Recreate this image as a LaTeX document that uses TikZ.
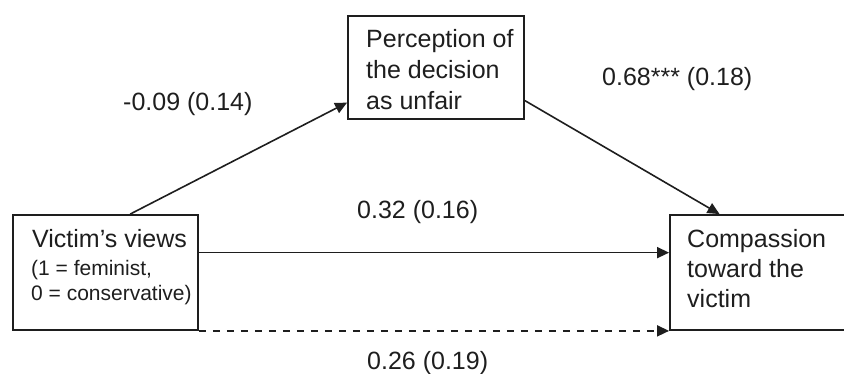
\documentclass[tikz,border=0pt]{standalone}
\usepackage{fontspec}
\setmainfont{Liberation Sans}
\usetikzlibrary{arrows.meta,calc}
\definecolor{ink}{HTML}{1E1E1E}
\begin{document}
\begin{tikzpicture}[x=1pt,y=-1pt,
  box/.style={draw=ink,line width=1.8pt,rectangle,inner sep=0pt},
  txt/.style={inner sep=0pt,anchor=base west,text=ink,align=left,font=\fontsize{25}{31}\selectfont},
  lbl/.style={inner sep=0pt,anchor=base west,text=ink,font=\fontsize{25}{30}\selectfont},
  conn/.style={draw=ink,line width=1.6pt,-{Triangle[length=12pt,width=11pt]}}]
\useasboundingbox (0,0) rectangle (844,374);
\clip (0,0) rectangle (844,374);
% boxes
\node[box,minimum width=185pt,minimum height=115pt] (views) at (105.5,272.5) {};
\node[box,minimum width=176pt,minimum height=103pt] (percep) at (436,67.5) {};
\node[box,minimum width=200pt,minimum height=115pt] (comp) at (770,272.5) {};
% box texts (anchor = baseline of the last line)
\node[txt] (viewsA) at (32,248) {Victim’s views};
\node[txt,font=\fontsize{21}{25}\selectfont] (viewsB) at (31,301) {(1 = feminist,\\0 = conservative)};
\node[txt] (percepT) at (366,110) {Perception of\\the decision\\as unfair};
\node[txt,font=\fontsize{25}{30}\selectfont] (compT) at (687,308) {Compassion\\toward the\\victim};
% connectors
\draw[conn] ($(views.north west)!0.632!(views.north east)$) -- ($(percep.north west)!0.835!(percep.south west)$);
\draw[conn] ($(percep.north east)!0.816!(percep.south east)$) -- ($(comp.north west)!0.25!(comp.north east)$);
\draw[conn] ($(views.north east)!0.33!(views.south east)$) -- ($(comp.north west)!0.33!(comp.south west)$);
\draw[conn,dash pattern=on 7pt off 7pt] (views.south east) -- (comp.south west);
% path labels
\node[lbl] (la) at (123,111) {-0.09 (0.14)};
\node[lbl] (lb) at (602,86) {0.68*** (0.18)};
\node[lbl] (lc) at (357,219) {0.32 (0.16)};
\node[lbl] (ld) at (367,369) {0.26 (0.19)};
\end{tikzpicture}
\end{document}
